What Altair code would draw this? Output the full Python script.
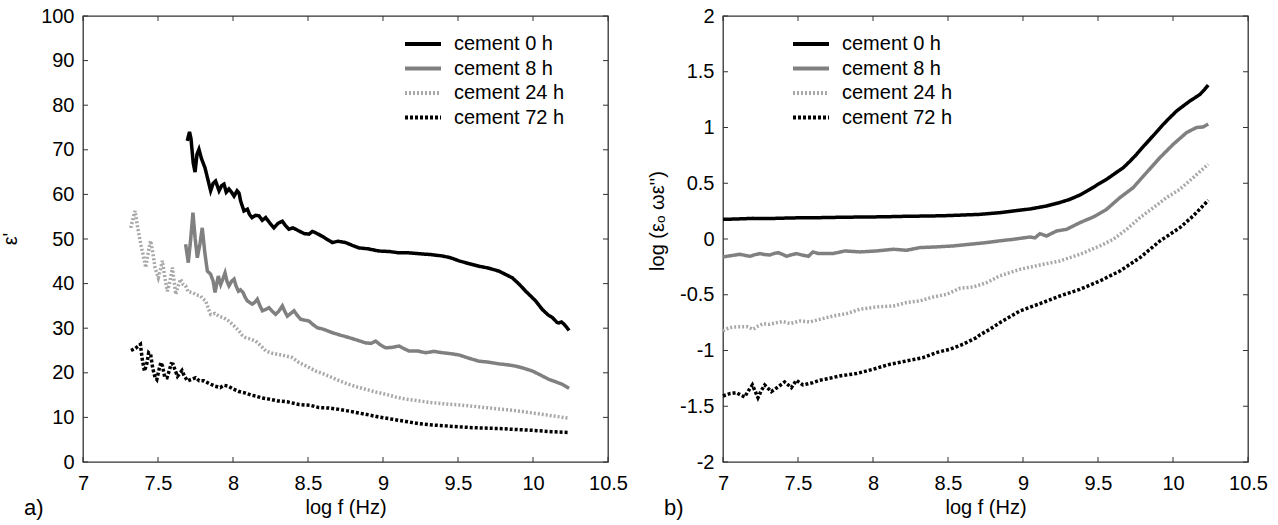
import altair as alt
import pandas as pd

series = ["cement 0 h", "cement 8 h", "cement 24 h", "cement 72 h"]
colors = ["#000000", "#808080", "#a8a8a8", "#000000"]
dashes = [[1, 0], [1, 0], [2, 2], [3, 2]]

x_ticks = [7, 7.5, 8, 8.5, 9, 9.5, 10, 10.5]
yl_ticks = [0, 10, 20, 30, 40, 50, 60, 70, 80, 90, 100]
yr_ticks = [-2, -1.5, -1, -0.5, 0, 0.5, 1, 1.5, 2]

# ---- panel a) : epsilon' ----
a0_x = [7.695, 7.71, 7.72, 7.735, 7.747, 7.76, 7.773, 7.79, 7.813, 7.835, 7.851, 7.868, 7.884, 7.907, 7.925,
        7.94, 7.955, 7.973, 7.99, 8.007, 8.027, 8.04, 8.051, 8.073, 8.096, 8.11, 8.127, 8.15, 8.173, 8.195,
        8.218, 8.245, 8.273, 8.3, 8.329, 8.35, 8.373, 8.4, 8.44, 8.475, 8.507, 8.53, 8.551, 8.6, 8.662, 8.7,
        8.751, 8.8, 8.84, 8.9, 8.973, 9.04, 9.107, 9.17, 9.24, 9.32, 9.395, 9.45, 9.507, 9.57, 9.64, 9.7,
        9.773, 9.82, 9.862, 9.91, 9.951, 9.985, 10.018, 10.062, 10.1, 10.129, 10.16, 10.173, 10.19, 10.207,
        10.225, 10.24]
a0_y = [72, 74, 72.5, 67, 65, 69, 70.1, 68, 66, 63, 60.8, 62.5, 63, 60.8, 62,
        62.3, 60.5, 61.2, 60.5, 59.6, 60.8, 60.3, 58.5, 56.3, 56.7, 55.5, 54.8, 55.3, 55.2, 54.2,
        54.8, 53.6, 52.5, 53.5, 54, 53, 52.2, 52.5, 51.8, 51.2, 51.1, 51.7, 51.4, 50.5, 49.2, 49.5,
        49.2, 48.5, 48.0, 47.8, 47.3, 47.2, 46.9, 46.9, 46.7, 46.5, 46.2, 45.8, 45.1, 44.5, 43.9, 43.5,
        42.8, 42.0, 41.3, 39.8, 38.3, 37.2, 36.1, 34.2, 33.0, 32.4, 31.3, 31.2, 31.4, 30.9,
        30.2, 29.5]

a8_x = [7.684, 7.702, 7.718, 7.733, 7.748, 7.762, 7.78, 7.795, 7.812, 7.829, 7.851, 7.868, 7.88, 7.892,
        7.902, 7.918, 7.932, 7.947, 7.96, 7.973, 7.99, 8.007, 8.02, 8.036, 8.05, 8.067, 8.08, 8.096, 8.129,
        8.145, 8.162, 8.18, 8.196, 8.218, 8.24, 8.262, 8.284, 8.305, 8.329, 8.345, 8.362, 8.385, 8.407,
        8.43, 8.451, 8.48, 8.507, 8.53, 8.562, 8.6, 8.662, 8.72, 8.773, 8.83, 8.884, 8.92, 8.951, 8.985,
        9.018, 9.06, 9.107, 9.14, 9.173, 9.23, 9.284, 9.34, 9.395, 9.45, 9.507, 9.57, 9.64, 9.7, 9.773,
        9.83, 9.884, 9.94, 9.996, 10.05, 10.107, 10.15, 10.196, 10.24]
a8_y = [48.8, 44.7, 50, 55.9, 50, 45.8, 49, 52.5, 47, 42.8, 42.1, 40.5, 38, 40,
        41.7, 39.8, 41, 42.4, 40.5, 39.5, 40.5, 41, 39.5, 38.3, 38.6, 38, 37, 36.1, 35.4,
        35.8, 36.5, 35, 33.9, 34.2, 34.6, 33.8, 33.1, 33.8, 35, 33.8, 32.7, 33.3, 33.9,
        32.8, 32, 31.8, 31.6, 30.9, 30.1, 29.8, 29, 28.4, 27.9, 27.3, 26.7, 26.6, 27.1, 26.2,
        25.6, 25.7, 26, 25.4, 24.9, 24.9, 24.5, 24.8, 24.5, 24.3, 24, 23.3, 22.6, 22.4, 22,
        21.8, 21.5, 21.0, 20.4, 19.5, 18.5, 18.0, 17.4, 16.5]

a24_x = [7.318, 7.333, 7.347, 7.36, 7.373, 7.387, 7.4, 7.418, 7.435, 7.451, 7.465, 7.48, 7.502, 7.515,
         7.529, 7.545, 7.562, 7.58, 7.596, 7.608, 7.618, 7.635, 7.651, 7.668, 7.684, 7.7, 7.729, 7.755,
         7.784, 7.8, 7.818, 7.835, 7.851, 7.88, 7.907, 7.94, 7.973, 8.005, 8.04, 8.06, 8.084, 8.115,
         8.151, 8.185, 8.218, 8.26, 8.307, 8.35, 8.396, 8.44, 8.5, 8.551, 8.6, 8.662, 8.72, 8.773, 8.83,
         8.884, 8.95, 9.018, 9.08, 9.151, 9.24, 9.329, 9.42, 9.507, 9.6, 9.684, 9.77, 9.862, 9.95,
         10.04, 10.14, 10.24]
a24_y = [52.5, 54.5, 56.3, 53.5, 51, 48.5, 46.6, 43.6, 47, 49.6, 47, 43.6, 41.3, 43,
         45.1, 41.5, 38.3, 40.5, 43.6, 40.5, 37.6, 39.5, 41, 39.8, 39.5, 38.2, 38, 37.5,
         37.2, 36.6, 36.1, 34.5, 33.1, 33.3, 32.7, 32.3, 31.6, 30.6, 29.4, 28.5, 27.9, 27.6,
         27.1, 26.1, 24.9, 24.4, 24.1, 23.8, 23.4, 22.3, 21.3, 20.4, 19.8, 18.9, 18.1, 17.4, 16.8,
         16.3, 15.7, 15.2, 14.6, 14.1, 13.7, 13.3, 13.0, 12.8, 12.5, 12.2, 11.9, 11.6, 11.2,
         10.8, 10.3, 9.8]

a72_x = [7.32, 7.35, 7.383, 7.395, 7.41, 7.425, 7.438, 7.451, 7.465, 7.48, 7.492, 7.505, 7.519, 7.53,
         7.545, 7.56, 7.575, 7.588, 7.601, 7.615, 7.63, 7.642, 7.66, 7.675, 7.697, 7.72, 7.751, 7.775,
         7.806, 7.84, 7.88, 7.915, 7.94, 7.97, 8.0, 8.04, 8.079, 8.12, 8.15, 8.189, 8.24, 8.298, 8.36,
         8.44, 8.517, 8.573, 8.64, 8.707, 8.79, 8.884, 8.97, 9.062, 9.15, 9.24, 9.33, 9.418, 9.5, 9.596,
         9.68, 9.773, 9.88, 9.996, 10.12, 10.24]
a72_y = [25, 25.5, 26.4, 23, 20.4, 22, 24.5, 24.1, 21, 19, 18.5, 20.5, 22.3, 21.5,
         19, 18.9, 20.5, 22, 21.9, 20.5, 19.2, 19.7, 20.5, 19.3, 18.2, 18.5, 18.9, 18.2,
         18.2, 17.6, 17.0, 16.7, 17.2, 17, 16.4, 15.8, 15.5, 15.0, 14.8, 14.4, 14.1, 13.7, 13.5,
         12.9, 12.7, 12.2, 12.1, 11.8, 11.3, 10.7, 10.1, 9.6, 9.1, 8.6, 8.3, 8.1, 7.9, 7.7,
         7.6, 7.5, 7.3, 7.1, 6.8, 6.6]

# ---- panel b) : log(eps0 * omega * eps'') ----
b0_x = [7.0, 7.1, 7.2, 7.3, 7.4, 7.5, 7.6, 7.7, 7.8, 7.913, 8.0, 8.1, 8.2, 8.3, 8.4, 8.5, 8.6, 8.713,
        8.847, 8.935, 9.05, 9.157, 9.24, 9.313, 9.38, 9.446, 9.5, 9.557, 9.61, 9.669, 9.715, 9.757, 9.8,
        9.846, 9.89, 9.935, 9.98, 10.024, 10.07, 10.113, 10.15, 10.18, 10.21, 10.235]
b0_y = [0.176, 0.18, 0.185, 0.183, 0.187, 0.19, 0.19, 0.193, 0.195, 0.197, 0.198, 0.2, 0.203, 0.205,
        0.207, 0.21, 0.215, 0.221, 0.236, 0.251, 0.27, 0.296, 0.325, 0.356, 0.395, 0.445, 0.49, 0.535,
        0.585, 0.64, 0.7, 0.759, 0.826, 0.894, 0.96, 1.028, 1.09, 1.148, 1.195, 1.238, 1.27, 1.297,
        1.34, 1.381]

b8_x = [7.0, 7.05, 7.113, 7.15, 7.18, 7.215, 7.247, 7.28, 7.313, 7.34, 7.369, 7.4, 7.424, 7.46, 7.491,
        7.53, 7.569, 7.6, 7.635, 7.669, 7.736, 7.813, 7.913, 8.024, 8.136, 8.224, 8.313, 8.424, 8.536,
        8.647, 8.758, 8.847, 8.935, 9.046, 9.08, 9.113, 9.157, 9.224, 9.291, 9.38, 9.468, 9.557, 9.646,
        9.735, 9.824, 9.913, 10.002, 10.091, 10.157, 10.2, 10.235]
b8_y = [-0.161, -0.15, -0.137, -0.148, -0.155, -0.14, -0.131, -0.14, -0.143, -0.13, -0.122, -0.14,
        -0.155, -0.14, -0.131, -0.145, -0.155, -0.116, -0.13, -0.131, -0.13, -0.107, -0.116, -0.107,
        -0.092, -0.101, -0.077, -0.071, -0.062, -0.047, -0.032, -0.016, -0.003, 0.018, 0.01, 0.048,
        0.027, 0.072, 0.087, 0.147, 0.197, 0.266, 0.371, 0.461, 0.596, 0.73, 0.85, 0.955, 1.0, 1.005,
        1.03]

b24_x = [7.0, 7.035, 7.071, 7.16, 7.2, 7.235, 7.269, 7.31, 7.358, 7.4, 7.447, 7.513, 7.58, 7.647,
         7.736, 7.824, 7.913, 8.024, 8.136, 8.224, 8.313, 8.402, 8.491, 8.58, 8.669, 8.758, 8.847,
         8.98, 9.113, 9.246, 9.38, 9.513, 9.602, 9.691, 9.78, 9.869, 9.957, 10.046, 10.135, 10.235]
b24_y = [-0.825, -0.8, -0.789, -0.786, -0.81, -0.78, -0.759, -0.765, -0.75, -0.74, -0.759, -0.735,
         -0.744, -0.72, -0.69, -0.669, -0.63, -0.609, -0.6, -0.57, -0.555, -0.52, -0.496, -0.442,
         -0.43, -0.391, -0.33, -0.272, -0.233, -0.197, -0.137, -0.062, -0.003, 0.087, 0.192, 0.281,
         0.371, 0.446, 0.551, 0.671]

b72_x = [7.0, 7.044, 7.089, 7.144, 7.17, 7.196, 7.233, 7.255, 7.278, 7.322, 7.367, 7.411, 7.456,
         7.489, 7.533, 7.6, 7.644, 7.711, 7.778, 7.889, 8.0, 8.111, 8.222, 8.333, 8.422, 8.511, 8.6,
         8.689, 8.713, 8.778, 8.846, 8.98, 9.113, 9.246, 9.38, 9.513, 9.646, 9.78, 9.913, 10.046,
         10.135, 10.235]
b72_y = [-1.408, -1.387, -1.378, -1.417, -1.36, -1.309, -1.423, -1.36, -1.309, -1.369, -1.327,
         -1.282, -1.333, -1.267, -1.309, -1.288, -1.267, -1.249, -1.228, -1.207, -1.168, -1.124,
         -1.094, -1.064, -1.019, -0.989, -0.944, -0.885, -0.86, -0.81, -0.75, -0.645, -0.58, -0.511,
         -0.451, -0.376, -0.287, -0.167, -0.018, 0.102, 0.207, 0.347]

W, H = 525, 446
FONT = "Liberation Sans"
TICK_LEN = 5
FRAME = "#333333"


def long_df(xs_list, ys_list):
    rows = []
    for s, xs, ys in zip(series, xs_list, ys_list):
        for xv, yv in zip(xs, ys):
            rows.append({"series": s, "x": xv, "y": yv})
    return pd.DataFrame(rows)


def panel(df, y_ticks, y_dom, y_title, tag, legend_x, title_x, title_y):
    xs = alt.Scale(domain=[7, 10.5], nice=False, zero=False)
    ys = alt.Scale(domain=y_dom, nice=False, zero=False)
    x_axis = alt.Axis(values=x_ticks, title="log f (Hz)", labelExpr="'' + datum.value",
                      labelPadding=11, titlePadding=4, labelFlush=False)
    y_axis = alt.Axis(values=y_ticks, title=None, labelExpr="'' + datum.value",
                      labelPadding=9, labelFlush=False)
    leg = alt.Legend(
        title=None, orient="none", legendX=legend_x, legendY=16,
        symbolType="stroke", symbolSize=1296, symbolStrokeWidth=4,
        labelFontSize=20, labelFont=FONT, labelColor="#000", labelOffset=11,
        clipHeight=24, rowPadding=0.5, padding=0,
    )
    lines = alt.Chart(df).mark_line(strokeWidth=3.5).encode(
        x=alt.X("x:Q", scale=xs, axis=x_axis),
        y=alt.Y("y:Q", scale=ys, axis=y_axis),
        color=alt.Color("series:N", scale=alt.Scale(domain=series, range=colors), legend=leg),
        strokeDash=alt.StrokeDash("series:N", scale=alt.Scale(domain=series, range=dashes), legend=leg),
    )
    ydf = pd.DataFrame({"v": y_ticks})
    xdf = pd.DataFrame({"v": x_ticks})
    tk = dict(color=FRAME, strokeWidth=1)
    yl = alt.Chart(ydf).mark_rule(**tk).encode(
        y=alt.Y("v:Q", scale=ys, axis=y_axis), x=alt.value(0), x2=alt.value(TICK_LEN))
    yr = alt.Chart(ydf).mark_rule(**tk).encode(
        y=alt.Y("v:Q", scale=ys, axis=y_axis), x=alt.value(W - TICK_LEN), x2=alt.value(W))
    xb = alt.Chart(xdf).mark_rule(**tk).encode(
        x=alt.X("v:Q", scale=xs, axis=x_axis), y=alt.value(H), y2=alt.value(H - TICK_LEN))
    xt = alt.Chart(xdf).mark_rule(**tk).encode(
        x=alt.X("v:Q", scale=xs, axis=x_axis), y=alt.value(0), y2=alt.value(TICK_LEN))
    label = alt.Chart(pd.DataFrame({"t": [tag]})).mark_text(
        align="left", baseline="middle", fontSize=22, font=FONT, color="#000"
    ).encode(text="t:N", x=alt.value(-59), y=alt.value(H + 46))
    ytitle = alt.Chart(pd.DataFrame({"t": [y_title]})).mark_text(
        align="center", baseline="middle", angle=270, fontSize=20, font=FONT, color="#000"
    ).encode(text="t:N", x=alt.value(title_x), y=alt.value(title_y))
    return alt.layer(lines, yl, yr, xb, xt, label, ytitle).properties(
        width=W, height=H,
        view=alt.ViewBackground(stroke=FRAME, strokeWidth=1.3, fill="white"),
    )


left = panel(long_df([a0_x, a8_x, a24_x, a72_x], [a0_y, a8_y, a24_y, a72_y]),
             yl_ticks, [0, 100], "ε'", "a)", 320, -72, H / 2)
right = panel(long_df([b0_x, b8_x, b24_x, b72_x], [b0_y, b8_y, b24_y, b72_y]),
              yr_ticks, [-2, 2], "log (εₒ ωε'')", "b)", 68, -65, 205)

chart = alt.hconcat(left, right, spacing=18).resolve_scale(
    x="independent", y="independent", color="independent", strokeDash="independent"
).resolve_legend(color="independent", strokeDash="independent").properties(
    padding={"left": 0, "top": 5, "right": 5, "bottom": 5}
).configure_view(stroke=FRAME, strokeWidth=1.3).configure_axis(
    domain=False, ticks=False, tickSize=0, grid=False,
    labelFont=FONT, labelFontSize=20, labelColor="#000",
    titleFont=FONT, titleFontSize=20, titleFontWeight="normal", titleColor="#000",
)

chart.save("out.html", embed_options={"renderer": "svg", "actions": False})
